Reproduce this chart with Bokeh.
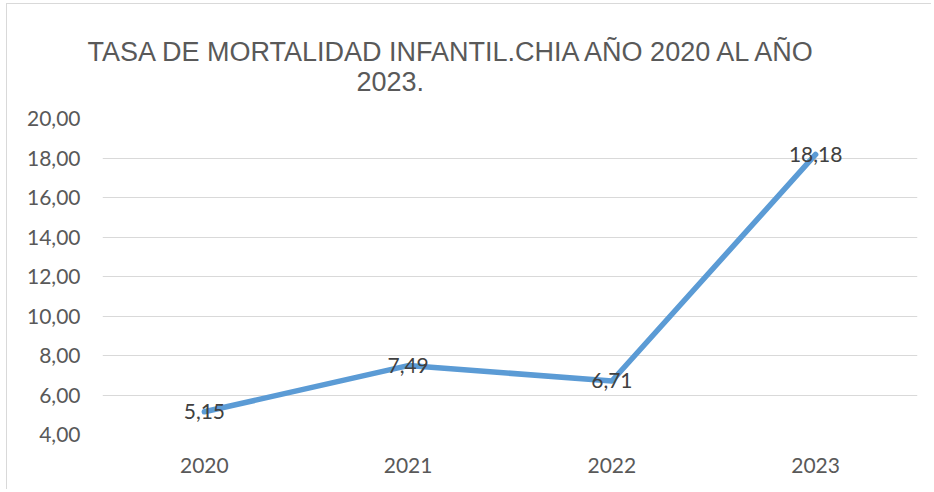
from bokeh.plotting import figure
from bokeh.models import ColumnDataSource, FactorRange, Range1d, FixedTicker, CustomJSTickFormatter, LabelSet, Title
from bokeh.core.properties import value
from bokeh.embed import file_html
from bokeh.resources import INLINE

years = ["2020", "2021", "2022", "2023"]
rates = [5.15, 7.49, 6.71, 18.18]
rate_labels = ["5,15", "7,49", "6,71", "18,18"]
y_ticks = [4, 6, 8, 10, 12, 14, 16, 18, 20]
title_line1 = "TASA DE MORTALIDAD INFANTIL.CHIA AÑO 2020 AL AÑO"
title_line2 = "2023."

src = ColumnDataSource(dict(x=years, y=rates, lab=rate_labels))

p = figure(width=925, height=486, x_range=FactorRange(*years), y_range=Range1d(4, 20),
           output_backend="svg", toolbar_location=None,
           min_border_left=95, min_border_right=15, min_border_top=114, min_border_bottom=56)
p.outline_line_color = None
p.background_fill_color = "white"
p.border_fill_color = "white"

p.xgrid.grid_line_color = None
p.ygrid.grid_line_color = "#d9d9d9"
p.ygrid.grid_line_width = 1
p.yaxis.ticker = FixedTicker(ticks=y_ticks)
p.yaxis.formatter = CustomJSTickFormatter(code="return tick.toFixed(2).replace('.', ',');")
for ax in (p.xaxis[0], p.yaxis[0]):
    ax.axis_line_color = None
    ax.major_tick_line_color = None
    ax.minor_tick_line_color = None
    ax.major_tick_out = 0
    ax.major_tick_in = 0
    ax.major_label_text_font = "Lato"
    ax.major_label_text_font_size = "21px"
    ax.major_label_text_color = "#595959"
p.yaxis.major_label_standoff = 22
p.xaxis.major_label_standoff = 23

p.line("x", "y", source=src, line_width=5.5, line_color="#5B9BD5", line_cap="round", line_join="round")

p.add_layout(LabelSet(x="x", y="y", text="lab", source=src, text_align="center", text_baseline="middle",
                      text_font=value("Lato"), text_font_size=value("21px"), text_color="#404040"))

spacer = Title(text=" ", text_font_size="1px", standoff=22)
t2 = Title(text=title_line2, align="left", offset=254, text_font="Liberation Sans",
           text_font_size="27px", text_font_style="normal", text_color="#595959", standoff=6)
t1 = Title(text=title_line1, align="left", offset=-15, text_font="Liberation Sans",
           text_font_size="27px", text_font_style="normal", text_color="#595959", standoff=0)
p.add_layout(spacer, "above")
p.add_layout(t2, "above")
p.add_layout(t1, "above")

p.styles = {"border-left": "1px solid #d9d9d9", "border-top": "1px solid #d9d9d9",
            "margin-left": "6px", "margin-top": "3px"}

open("out.html", "w").write(file_html(p, INLINE))
